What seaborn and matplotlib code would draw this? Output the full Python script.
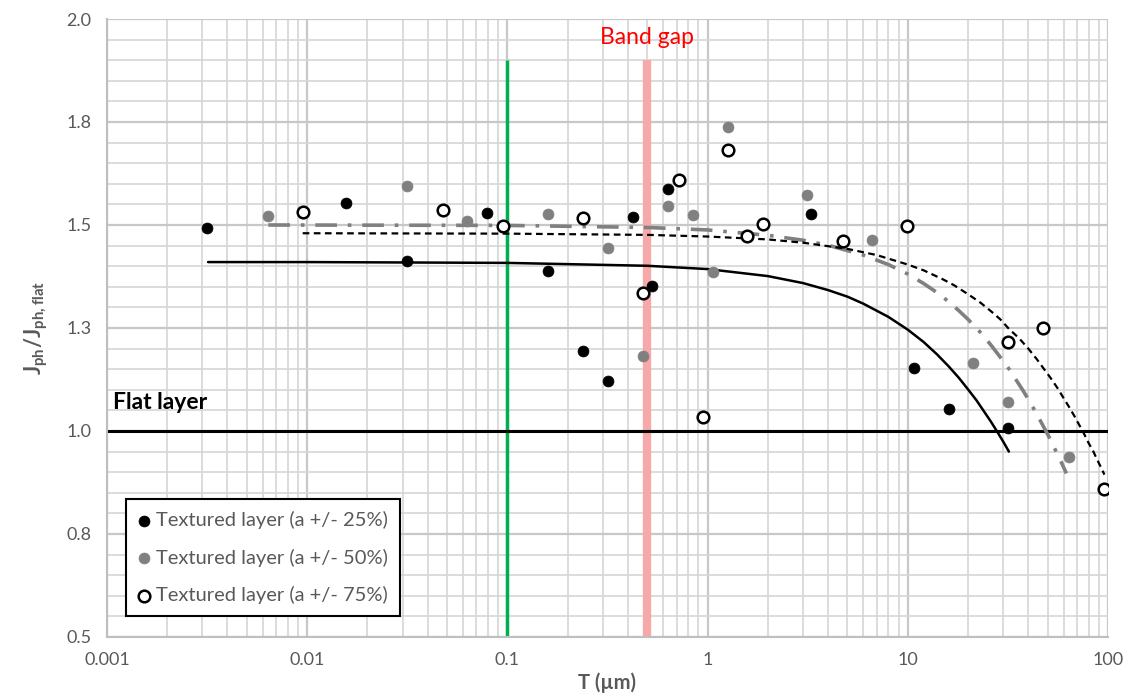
import numpy as np
import matplotlib
matplotlib.use("Agg")
import matplotlib.pyplot as plt
import matplotlib.ticker as mticker
import seaborn as sns

# measured points, T in um, ratio Jph/Jph,flat
t_25 = [0.00315, 0.0157, 0.0316, 0.0789, 0.159, 0.239, 0.318, 0.423, 0.528, 0.632, 3.28, 10.7, 16.0, 31.8]
j_25 = [1.492, 1.554, 1.413, 1.528, 1.389, 1.194, 1.121, 1.520, 1.352, 1.587, 1.527, 1.152, 1.054, 1.007]

t_50 = [0.0064, 0.0316, 0.063, 0.159, 0.319, 0.476, 0.632, 0.849, 1.064, 1.27, 3.15, 6.63, 21.1, 31.8, 63.7]
j_50 = [1.522, 1.595, 1.510, 1.527, 1.445, 1.182, 1.547, 1.524, 1.386, 1.739, 1.574, 1.464, 1.166, 1.070, 0.936]

t_75 = [0.0095, 0.0479, 0.0948, 0.238, 0.476, 0.72, 0.948, 1.27, 1.58, 1.90, 4.73, 9.87, 31.8, 47.5, 95.5]
j_75 = [1.532, 1.536, 1.498, 1.518, 1.335, 1.609, 1.034, 1.682, 1.473, 1.503, 1.461, 1.498, 1.217, 1.250, 0.860]

# trend lines
fit_t_25 = [0.0032, 0.01, 0.1, 0.5, 1, 2, 3, 4, 5, 6, 8, 10, 12, 14, 16, 18, 20, 22, 24, 26, 28, 30, 32]
fit_j_25 = [1.410, 1.410, 1.408, 1.401, 1.393, 1.376, 1.359, 1.342, 1.326, 1.309, 1.277, 1.246, 1.216,
            1.186, 1.157, 1.129, 1.101, 1.075, 1.048, 1.023, 0.998, 0.974, 0.950]

fit_t_50 = [0.0064, 0.1, 0.5, 1, 2, 3, 4, 6, 8, 10, 12, 14, 16, 18, 20, 23, 26, 29, 32, 35, 38, 41,
            44, 47, 50, 53, 56, 59, 62]
fit_j_50 = [1.500, 1.499, 1.494, 1.488, 1.475, 1.463, 1.451, 1.427, 1.404, 1.381, 1.358, 1.336, 1.314,
            1.292, 1.271, 1.240, 1.209, 1.179, 1.151, 1.122, 1.095, 1.068, 1.042, 1.016, 0.992, 0.967,
            0.943, 0.920, 0.897]

fit_t_75 = [0.0095, 0.1, 0.5, 1, 2, 3, 5, 7, 10, 12, 15, 17, 20, 23, 26, 29, 32, 36, 40, 44, 48, 52,
            56, 60, 64, 68, 72, 76, 80, 84, 88, 92, 96]
fit_j_75 = [1.480, 1.479, 1.476, 1.472, 1.465, 1.457, 1.442, 1.427, 1.404, 1.390, 1.368, 1.354, 1.332,
            1.312, 1.291, 1.271, 1.248, 1.225, 1.200, 1.175, 1.150, 1.127, 1.104, 1.080, 1.058, 1.036,
            1.014, 0.993, 0.971, 0.953, 0.932, 0.913, 0.894]

labels = ["Textured layer (a +/- 25%)", "Textured layer (a +/- 50%)", "Textured layer (a +/- 75%)"]

flat_level = 1.0
green_x = 0.1
band_gap_x = 0.5
vline_top = 1.9

x_ticks = [0.001, 0.01, 0.1, 1, 10, 100]
x_ticklabels = ["0.001", "0.01", "0.1", "1", "10", "100"]
y_ticks = [0.5, 0.75, 1.0, 1.25, 1.5, 1.75, 2.0]
y_ticklabels = ["0.5", "0.8", "1.0", "1.3", "1.5", "1.8", "2.0"]

sns.set_style("white")
plt.rcParams['font.family'] = ['Lato', 'DejaVu Sans']
plt.rcParams['mathtext.fontset'] = 'custom'
plt.rcParams['mathtext.rm'] = 'Lato'
plt.rcParams['mathtext.bf'] = 'Lato:bold'

gray_txt = "#595959"

fig = plt.figure(figsize=(11.27, 6.96), dpi=100)
ax = fig.add_axes([0.0949, 0.0848, 0.8882, 0.8879])
ax.set_xscale("log")
ax.set_xlim(0.001, 100)
ax.set_ylim(0.5, 2.0)

# grid
ax.yaxis.set_minor_locator(mticker.MultipleLocator(0.05))
ax.xaxis.set_minor_locator(mticker.LogLocator(base=10, subs=np.arange(2, 10)))
ax.grid(which="major", color="#C8C8C8", lw=1.6, zorder=0)
ax.grid(which="minor", color="#D6D6D6", lw=1.2, zorder=0)
ax.set_axisbelow(True)

# vertical markers
ax.plot([band_gap_x, band_gap_x], [0.5, vline_top], color="#F7A8A8", lw=6, zorder=1, solid_capstyle="butt")
ax.plot([green_x, green_x], [0.5, vline_top], color="#00B050", lw=2.5, zorder=2, solid_capstyle="butt")
ax.axhline(flat_level, color="black", lw=2.2, zorder=2)

# trend lines
sns.lineplot(x=fit_t_25, y=fit_j_25, color="black", lw=1.8, ax=ax, zorder=3)
sns.lineplot(x=fit_t_50, y=fit_j_50, color="#808080", lw=2.6, ax=ax, zorder=3)
ax.lines[-1].set_dashes([6, 3, 1, 3])
sns.lineplot(x=fit_t_75, y=fit_j_75, color="black", lw=1.6, ax=ax, zorder=3)
ax.lines[-1].set_dashes([3, 2])

# points
sns.scatterplot(x=t_25, y=j_25, color="black", s=62, edgecolor="black", linewidth=0.5,
                ax=ax, label=labels[0], zorder=4)
sns.scatterplot(x=t_50, y=j_50, color="#808080", s=62, edgecolor="#808080", linewidth=0.5,
                ax=ax, label=labels[1], zorder=4)
sns.scatterplot(x=t_75, y=j_75, color="white", s=70, edgecolor="black", linewidth=1.8,
                ax=ax, label=labels[2], zorder=5)

# texts
ax.text(0.00107, 1.068, "Flat layer", fontsize=16.5, fontweight="bold", color="black", va="center")
ax.text(band_gap_x, 1.956, "Band gap", fontsize=16.5, color="red", ha="center", va="center")

# axes styling
ax.set_xticks(x_ticks)
ax.set_xticklabels(x_ticklabels)
ax.set_yticks(y_ticks)
ax.set_yticklabels(y_ticklabels)
ax.tick_params(which="major", direction="out", length=5, width=1.2, color="#BFBFBF",
               labelsize=13, labelcolor=gray_txt, pad=6)
ax.tick_params(which="minor", length=0)
for side in ["top", "right"]:
    ax.spines[side].set_visible(False)
for side in ["left", "bottom"]:
    ax.spines[side].set_color("#BFBFBF")
    ax.spines[side].set_linewidth(1.5)

ax.set_xlabel("T (µm)", fontsize=14.5, fontweight="bold", color=gray_txt, labelpad=3)
ax.set_ylabel(r"$\mathbf{J_{ph}/J_{ph,flat}}$", fontsize=15.5, color=gray_txt, labelpad=12)

leg = ax.legend(loc="lower left", bbox_to_anchor=(0.019, 0.034), fontsize=14.5,
                frameon=True, fancybox=False, framealpha=1, edgecolor="black",
                labelspacing=0.95, handlelength=0.6, handletextpad=0.3, borderpad=0.6,
                borderaxespad=0)
leg.get_frame().set_linewidth(1.5)
for t in leg.get_texts():
    t.set_color(gray_txt)

fig.savefig("out.png", dpi=100)
